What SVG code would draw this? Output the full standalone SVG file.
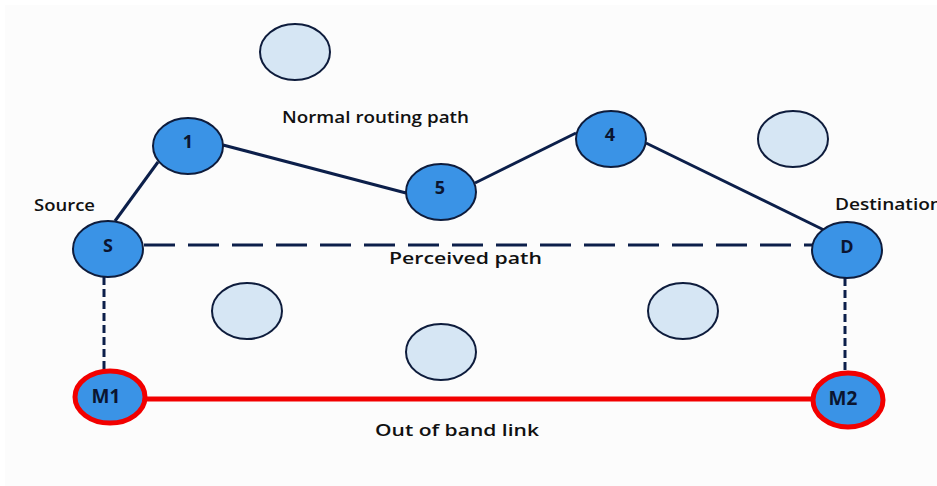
<svg xmlns="http://www.w3.org/2000/svg" width="937" height="486" viewBox="0 0 937 486">
  <style>
    .node { fill: #3a93e6; stroke: #0e1c3c; stroke-width: 2; }
    .idle { fill: #d6e6f4; stroke: #0e1c3c; stroke-width: 2; }
    .mon { fill: #3a93e6; stroke: #f20000; stroke-width: 5; }
    .lbl { font-family: "Open Sans", "Liberation Sans", sans-serif; font-weight: 600; font-size: 17px; fill: #111111; }
    .nlbl { font-family: "Open Sans", "Liberation Sans", sans-serif; font-weight: 700; font-size: 18px; fill: #0b1530; text-anchor: middle; }
    .mlbl { font-size: 19px; }
    .route { stroke: #0c1f4a; stroke-width: 3; fill: none; }
    .perceived { stroke: #0c1f4a; stroke-width: 3; stroke-dasharray: 31 13; fill: none; }
    .vdash { stroke: #0c1f4a; stroke-width: 3; stroke-dasharray: 8 4; fill: none; }
    .oob { stroke: #f20000; stroke-width: 5; fill: none; }
  </style>

  <rect x="0" y="0" width="937" height="486" fill="#ffffff"/>
  <rect x="5" y="5" width="932" height="481" fill="#fcfcfc"/>

  <!-- links -->
  <g id="connectors">
    <line class="route" x1="115" y1="221" x2="158" y2="162"/>
    <line class="route" x1="223" y1="145" x2="406" y2="193"/>
    <line class="route" x1="475" y1="183" x2="576" y2="133"/>
    <line class="route" x1="646" y1="143" x2="824" y2="230"/>
    <line class="perceived" x1="144" y1="245" x2="812" y2="245"/>
    <line class="vdash" x1="104" y1="277" x2="104" y2="371"/>
    <line class="vdash" x1="845" y1="278" x2="845" y2="373"/>
    <line class="oob" x1="146" y1="399" x2="812" y2="399"/>
  </g>

  <!-- idle nodes -->
  <g id="idle-a"><ellipse class="idle" cx="295" cy="52" rx="35" ry="28"/></g>
  <g id="idle-b"><ellipse class="idle" cx="793" cy="139" rx="35" ry="28"/></g>
  <g id="idle-c"><ellipse class="idle" cx="247" cy="311" rx="35" ry="28"/></g>
  <g id="idle-d"><ellipse class="idle" cx="441" cy="352" rx="35" ry="28"/></g>
  <g id="idle-e"><ellipse class="idle" cx="683" cy="311" rx="35" ry="28"/></g>

  <!-- routing nodes -->
  <g id="node-s">
    <ellipse class="node" cx="108" cy="249" rx="35" ry="28"/>
    <text class="nlbl" x="108" y="252">S</text>
  </g>
  <g id="node-1">
    <ellipse class="node" cx="188" cy="146" rx="35" ry="28"/>
    <text class="nlbl" x="188" y="148">1</text>
  </g>
  <g id="node-5">
    <ellipse class="node" cx="441" cy="192" rx="35" ry="28"/>
    <text class="nlbl" x="440" y="194">5</text>
  </g>
  <g id="node-4">
    <ellipse class="node" cx="611" cy="139" rx="35" ry="28"/>
    <text class="nlbl" x="610" y="141">4</text>
  </g>
  <g id="node-d">
    <ellipse class="node" cx="847" cy="250" rx="35" ry="28"/>
    <text class="nlbl" x="847" y="253">D</text>
  </g>
  <g id="node-m1">
    <ellipse class="mon" cx="110" cy="397" rx="35" ry="26"/>
    <text class="nlbl mlbl" x="106" y="403">M1</text>
  </g>
  <g id="node-m2">
    <ellipse class="mon" cx="848" cy="400" rx="35" ry="27"/>
    <text class="nlbl mlbl" x="843" y="405">M2</text>
  </g>

  <!-- captions -->
  <g id="captions">
    <text class="lbl" x="282" y="123" textLength="187" lengthAdjust="spacingAndGlyphs">Normal routing path</text>
    <text class="lbl" x="389" y="264" textLength="153" lengthAdjust="spacingAndGlyphs">Perceived path</text>
    <text class="lbl" x="375" y="436" textLength="164" lengthAdjust="spacingAndGlyphs">Out of band link</text>
    <text class="lbl" x="34" y="211" textLength="61" lengthAdjust="spacingAndGlyphs">Source</text>
    <text class="lbl" x="835" y="210" textLength="107" lengthAdjust="spacingAndGlyphs">Destination</text>
  </g>
</svg>
